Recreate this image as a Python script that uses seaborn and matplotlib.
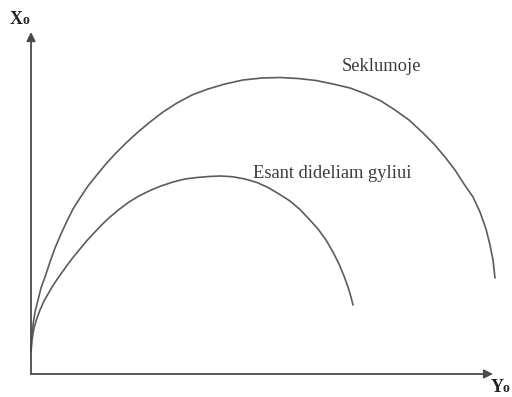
import matplotlib
matplotlib.use("Agg")
import matplotlib.pyplot as plt
import seaborn as sns
import pandas as pd

# Trajectory in shallow water (horizontal Y0, vertical X0, arbitrary units)
shallow_y = [0, 0.5, 2, 4, 7, 10, 14, 19, 24, 30, 36, 42, 49, 57, 65, 74, 84, 95,
             107, 119, 132, 146, 161, 177, 194, 212, 231, 249, 267, 285, 302, 319,
             335, 350, 364, 378, 391, 403, 414, 424, 433, 442, 449, 455, 459, 462, 464]
shallow_x = [22, 34, 49, 62, 74, 86, 97, 112, 126, 140, 153, 165, 176, 188, 198, 209,
             220, 231, 242, 252, 262, 271, 279, 285, 290, 294, 296, 296.5, 295.5, 293.5,
             290, 286, 280, 273, 264, 254, 242, 230, 217, 204, 190, 177, 162, 145, 129,
             114, 96]

# Trajectory at great depth
deep_y = [0, 1, 3, 6, 9, 13, 17, 22, 27, 32, 37, 42, 49, 56, 63, 71, 79, 88, 98,
          108, 119, 130, 142, 154, 166, 178, 190, 202, 214, 226, 237, 248, 259, 269,
          278, 287, 295, 302, 308, 313, 317, 320, 322]
deep_x = [22, 34, 46, 56, 64, 73, 80, 88.5, 96, 103, 110, 116.5, 125, 133.5, 141,
          149.5, 157, 164.5, 172, 178, 183.5, 188, 192, 195, 196.5, 197.5, 198, 197.2,
          195, 191.5, 186.5, 180, 173, 164.5, 155, 145, 134, 122, 110, 98, 87, 77, 69]

labels = ["Seklumoje", "Esant dideliam gyliui"]

df = pd.concat([
    pd.DataFrame({"Y0": shallow_y, "X0": shallow_x, "case": labels[0]}),
    pd.DataFrame({"Y0": deep_y, "X0": deep_x, "case": labels[1]}),
], ignore_index=True)

sns.set_theme(style="white")
plt.rcParams["font.family"] = ["Liberation Serif", "DejaVu Serif"]

W, H = 512, 397
fig = plt.figure(figsize=(W / 100, H / 100), dpi=100)
ax = fig.add_axes([31 / W, 23 / H, 462 / W, 342 / H])

line_col = "#5c5c5c"
sns.lineplot(data=df, x="Y0", y="X0", hue="case", sort=False, estimator=None,
             palette=[line_col, line_col], linewidth=1.2, legend=False, ax=ax)
for ln in ax.lines:
    ln.set_clip_on(False)
    ln.set_solid_joinstyle("round")
    ln.set_solid_capstyle("round")

ax.set_xlim(0, 462)
ax.set_ylim(0, 342)
ax.set_xticks([])
ax.set_yticks([])
ax.set_xlabel("")
ax.set_ylabel("")
for s in ax.spines.values():
    s.set_visible(False)

# Axes drawn as arrows from the origin
axis_col = "#4a4a4a"
arrow = dict(arrowstyle="-|>", color=axis_col, lw=1.3, mutation_scale=13,
             shrinkA=0, shrinkB=0)
ax.annotate("", xy=(1, 0), xytext=(0, 0), xycoords="axes fraction",
            textcoords="axes fraction", arrowprops=arrow, annotation_clip=False)
ax.annotate("", xy=(0, 1), xytext=(0, 0), xycoords="axes fraction",
            textcoords="axes fraction", arrowprops=arrow, annotation_clip=False)

# Curve labels
ax.text(311, 303, labels[0], fontsize=13.3, color="#3a3a3a", va="baseline", ha="left")
ax.text(222, 196, labels[1], fontsize=13.3, color="#3a3a3a", va="baseline", ha="left")

# Axis names
name_kw = dict(fontweight="bold", color="#222222", va="baseline", ha="left")
fig.text(10 / W, 1 - 24 / H, "X", fontsize=13, **name_kw)
fig.text(22.5 / W, 1 - 24 / H, "o", fontsize=10, **name_kw)
fig.text(491 / W, 4.5 / H, "Y", fontsize=13, **name_kw)
fig.text(502.5 / W, 4.5 / H, "o", fontsize=10, **name_kw)

fig.savefig("out.png", dpi=100, facecolor="white")
